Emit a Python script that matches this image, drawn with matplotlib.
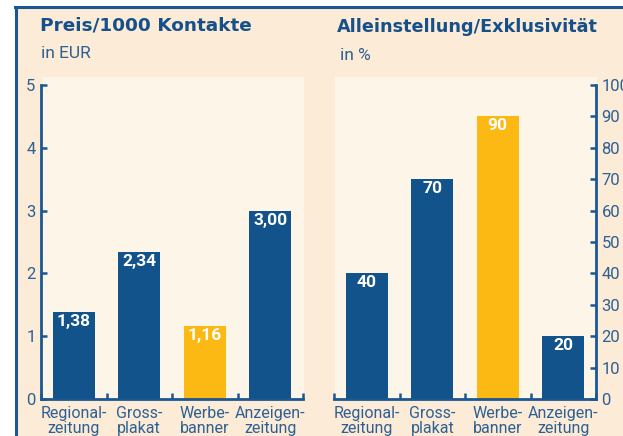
import matplotlib
matplotlib.use("Agg")
import matplotlib.pyplot as plt
from matplotlib.patches import Rectangle
from matplotlib.lines import Line2D

# data
categories = ["Regional-\nzeitung", "Gross-\nplakat", "Werbe-\nbanner", "Anzeigen-\nzeitung"]
preis_values = [1.38, 2.34, 1.16, 3.00]
exkl_values = [40, 70, 90, 20]
highlight = [False, False, True, False]

W, H = 623, 436
BLUE = "#11538a"
SPINE = "#1b5792"
TEXT = "#2d6093"
YELLOW = "#fdb913"
BEIGE = "#fcebd6"
INNER = "#fef5e9"

COND = ["Roboto", "DejaVu Sans"]


def fx(px):
    return px / W


def fy(py):
    return 1 - py / H


fig = plt.figure(figsize=(W / 100, H / 100), dpi=100, facecolor="white")

# outer beige box with border on left and top
fig.patches.append(Rectangle((fx(15), 0), 1 - fx(15), fy(7), transform=fig.transFigure,
                             facecolor=BEIGE, edgecolor="none", zorder=-3))
fig.add_artist(Line2D([fx(15.5), fx(15.5)], [0, fy(7)], transform=fig.transFigure,
                      color=SPINE, lw=2.2, zorder=-1))
fig.add_artist(Line2D([fx(15), 1], [fy(7.5), fy(7.5)], transform=fig.transFigure,
                      color=SPINE, lw=2.2, zorder=-1))

# lighter plot areas
for x0, x1 in [(42, 304), (335, 597)]:
    fig.patches.append(Rectangle((fx(x0), fy(399)), fx(x1 - x0), (399 - 77) / H,
                                 transform=fig.transFigure, facecolor=INNER,
                                 edgecolor="none", zorder=-2))


def draw_panel(ax, values, fmt, ymax, step, side):
    x = list(range(len(values)))
    colors = [YELLOW if h else BLUE for h in highlight]
    bars = ax.bar(x, values, width=0.64, color=colors, zorder=2)
    for b, v in zip(bars, values):
        ax.annotate(fmt(v), (b.get_x() + b.get_width() / 2, v), xytext=(0, -1.5),
                    textcoords="offset points", ha="center", va="top",
                    color="white", fontsize=12.5, fontweight="bold", family=COND, zorder=3)
    ax.set_xlim(-0.5, len(values) - 0.5)
    ax.set_ylim(0, ymax)
    ax.set_facecolor("none")
    ax.set_yticks(range(0, ymax + 1, step))
    ax.set_xticks(x)
    ax.set_xticklabels(categories, color=TEXT, fontsize=11.5, family=COND, linespacing=1.0)
    ax.set_xticks([i + 0.5 for i in range(-1, len(values))], minor=True)
    ax.tick_params(axis="x", which="major", length=0, pad=5)
    ax.tick_params(axis="x", which="minor", length=4, width=1.8, direction="in", color=SPINE)
    for s in ax.spines.values():
        s.set_visible(False)
    for s in ("bottom", side):
        ax.spines[s].set_visible(True)
        ax.spines[s].set_color(SPINE)
        ax.spines[s].set_linewidth(2)
    if side == "right":
        ax.yaxis.tick_right()
    ax.tick_params(axis="y", length=4, width=1.8, direction="in", color=SPINE,
                   labelcolor=TEXT, labelsize=12, pad=4)
    for lab in ax.get_yticklabels():
        lab.set_family(COND)


ax1 = fig.add_axes([fx(41), 37 / H, fx(262), 314 / H])
draw_panel(ax1, preis_values, lambda v: f"{v:.2f}".replace(".", ","), 5, 1, "left")

ax2 = fig.add_axes([fx(334), 37 / H, fx(262), 314 / H])
draw_panel(ax2, exkl_values, lambda v: f"{v:d}", 100, 10, "right")

# titles
fig.text(fx(40), fy(26), "Preis/1000 Kontakte", color="#16508a", fontsize=13.3,
         fontweight="bold", va="center", ha="left")
fig.text(fx(41), fy(54), "in EUR", color=TEXT, fontsize=12.5, family=COND, va="center")
fig.text(fx(337), fy(27), "Alleinstellung/Exklusivität", color="#16508a", fontsize=12.7,
         fontweight="bold", va="center", ha="left")
fig.text(fx(340), fy(55), "in %", color=TEXT, fontsize=12.5, family=COND, va="center")

fig.savefig("out.png", dpi=100, facecolor="white")
